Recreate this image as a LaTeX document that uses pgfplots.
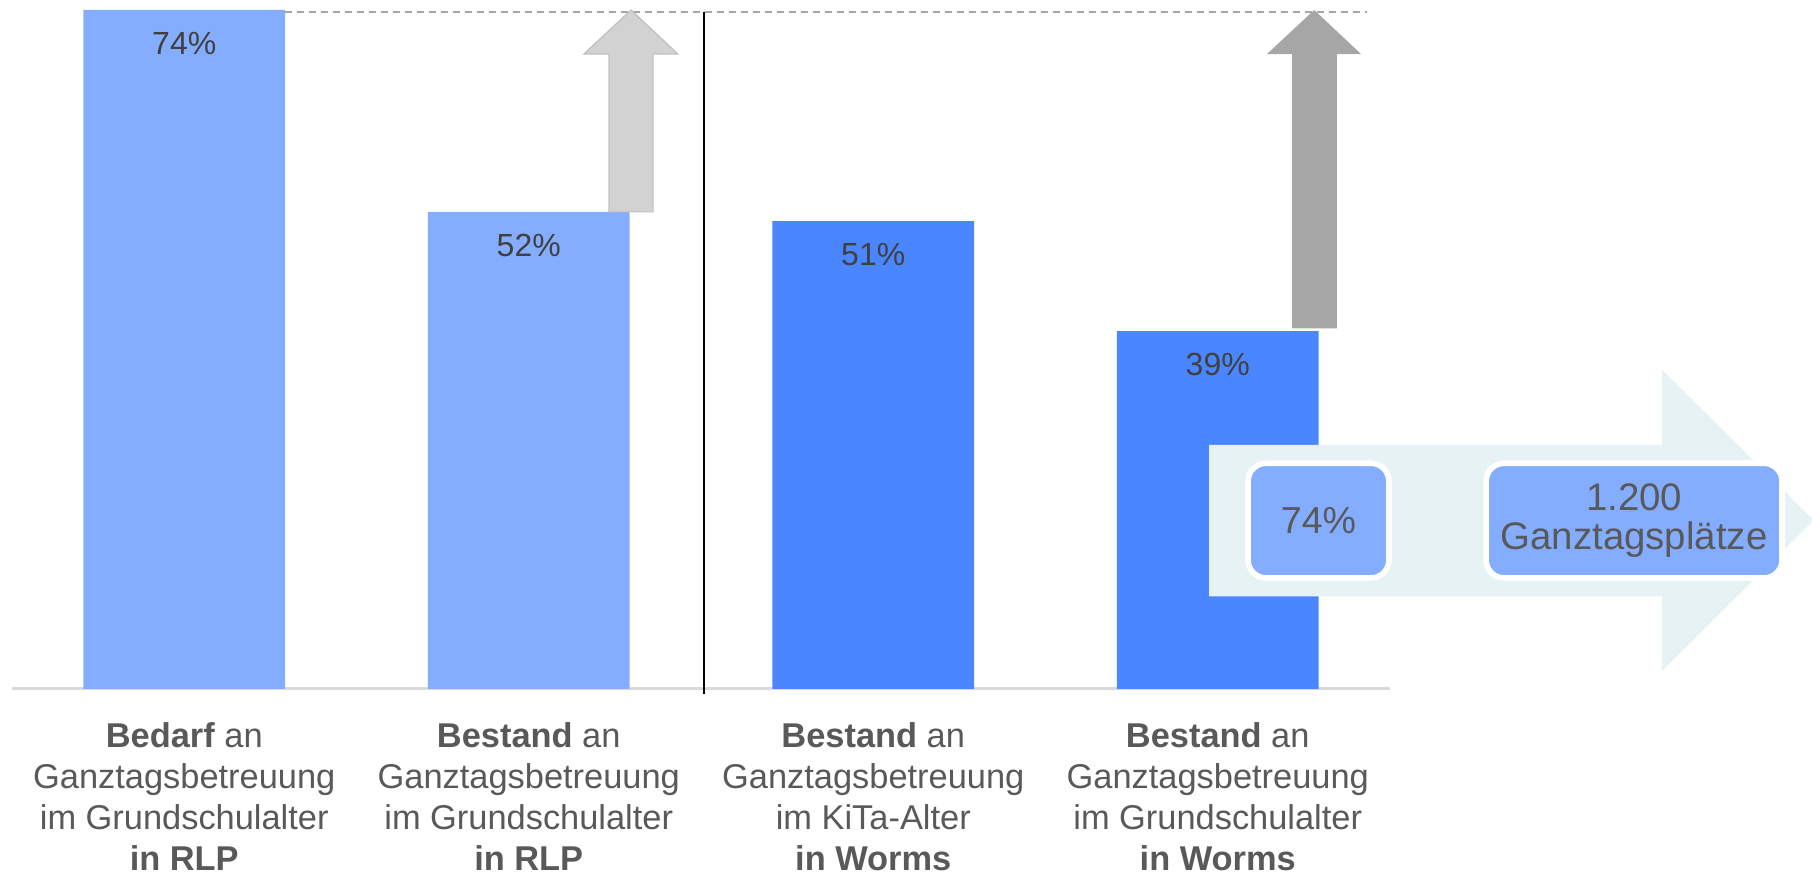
\documentclass[border=0pt]{standalone}
\usepackage{pgfplots}
\pgfplotsset{compat=1.18}
\usepackage{fontspec}
\setmainfont{Liberation Sans}

\definecolor{barlight}{HTML}{85ADFF}
\definecolor{bardark}{HTML}{4A86FF}
\definecolor{axisgray}{HTML}{D9D9D9}
\definecolor{dashgray}{HTML}{A6A6A6}
\definecolor{arrowlight}{HTML}{D2D2D2}
\definecolor{arrowlightedge}{HTML}{C0C0C0}
\definecolor{arrowdark}{HTML}{A6A6A6}
\definecolor{bigarrow}{HTML}{E6F2F3}
\definecolor{labelgray}{HTML}{595959}
\definecolor{valuegray}{HTML}{404040}

\begin{document}
\begin{tikzpicture}
\path[use as bounding box] (-3pt,-46.25pt) rectangle (450pt,172.25pt);
\begin{axis}[
  width=344.5pt, height=169.75pt, scale only axis,
  xmin=-0.5, xmax=3.5, ymin=0, ymax=74,
  axis x line=bottom, axis y line=none,
  x axis line style={draw=axisgray, line width=0.75pt, -},
  ytick=\empty,
  xtick={0,1,2,3},
  major tick length=0pt,
  xticklabels={
    {\textbf{Bedarf} an\\Ganztagsbetreuung\\im Grundschulalter\\\textbf{in RLP}},
    {\textbf{Bestand} an\\Ganztagsbetreuung\\im Grundschulalter\\\textbf{in RLP}},
    {\textbf{Bestand} an\\Ganztagsbetreuung\\im KiTa-Alter\\\textbf{in Worms}},
    {\textbf{Bestand} an\\Ganztagsbetreuung\\im Grundschulalter\\\textbf{in Worms}}},
  xticklabel style={align=center, font=\fontsize{8.6}{10.2}\selectfont,
    text=labelgray, anchor=north, yshift=-4.9pt},
  ybar, bar width=0.585, bar shift=0pt,
  clip=false,
  /pgf/number format/assume math mode=true,
  nodes near coords={\pgfmathprintnumber{\pgfplotspointmeta}\%},
  nodes near coords align={below},
  every node near coord/.append style={font=\fontsize{8}{9.6}\selectfont,
    text=valuegray, yshift=-2pt},
]
% RLP
\addplot[fill=barlight, draw=none] coordinates {(0,74) (1,52)};
% Worms
\addplot[fill=bardark, draw=none] coordinates {(2,51) (3,39)};

% target line and separator
\draw[dashgray, line width=0.5pt, dash pattern=on 1.75pt off 1.25pt]
  (axis cs:0.2925,73.8) -- (axis cs:3.433,73.8);
\draw[black, line width=0.4pt] (axis cs:1.509,73.8) -- (axis cs:1.509,-0.6);

% gap arrows
\fill[arrowlight, draw=arrowlightedge, line width=0.3pt]
  (axis cs:1.233,52) -- (axis cs:1.233,69.2) -- (axis cs:1.160,69.2)
  -- (axis cs:1.297,74) -- (axis cs:1.433,69.2) -- (axis cs:1.361,69.2)
  -- (axis cs:1.361,52) -- cycle;
\fill[arrowdark]
  (axis cs:3.216,39.3) -- (axis cs:3.216,69.2) -- (axis cs:3.143,69.2)
  -- (axis cs:3.28,74) -- (axis cs:3.416,69.2) -- (axis cs:3.346,69.2)
  -- (axis cs:3.346,39.3) -- cycle;

% big arrow with the two boxes
\fill[bigarrow]
  (axis cs:2.975,26.6) -- (axis cs:4.29,26.6) -- (axis cs:4.29,34.8)
  -- (axis cs:4.73,18.4) -- (axis cs:4.29,1.96) -- (axis cs:4.29,10.1)
  -- (axis cs:2.975,10.1) -- cycle;
\draw[white, line width=1.4pt, fill=barlight, rounded corners=4.5pt]
  (axis cs:3.088,24.6) rectangle (axis cs:3.497,12.1);
\draw[white, line width=1.4pt, fill=barlight, rounded corners=4.5pt]
  (axis cs:3.779,24.6) rectangle (axis cs:4.638,12.1);
\node[text=labelgray, font=\fontsize{9.4}{10}\selectfont]
  at (axis cs:3.2925,18.35) {74\%};
\node[text=labelgray, align=center, font=\fontsize{9.6}{9.8}\selectfont]
  at (axis cs:4.2085,18.35) {1.200\\Ganztagsplätze};
\end{axis}
\end{tikzpicture}
\end{document}
